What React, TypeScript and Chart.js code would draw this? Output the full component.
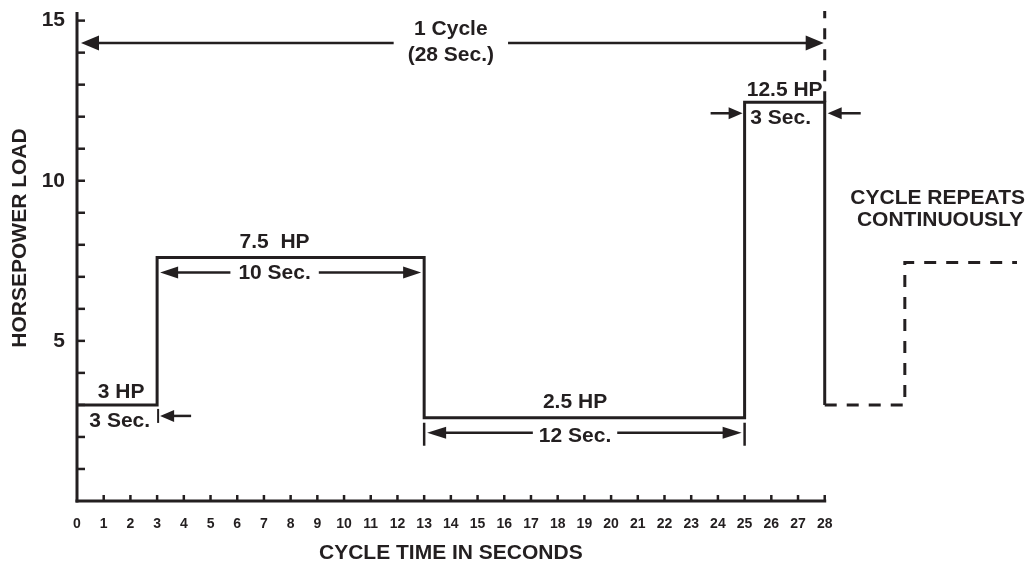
import React, { useEffect, useRef } from 'react';
import { Chart, registerables } from 'chart.js';

Chart.register(...registerables);

// ---- data ----
const cycleTimes = [0, 3, 3, 13, 13, 25, 25, 28, 28];
const loadHP = [3, 3, 7.6, 7.6, 2.6, 2.6, 12.45, 12.45, 3];
const repeatTimes = [28, 31, 31, 35.2];
const repeatHP = [3, 3, 7.45, 7.45];
const cycleEndTimes = [28, 28];
const cycleEndHP = [12.45, 15.3];

const xTickValues = [0, 1, 2, 3, 4, 5, 6, 7, 8, 9, 10, 11, 12, 13, 14, 15, 16, 17, 18, 19, 20, 21, 22, 23, 24, 25, 26, 27, 28];
const yTickValues = [0, 1, 2, 3, 4, 5, 6, 7, 8, 9, 10, 11, 12, 13, 14, 15];
const yLabeledTicks = [5, 10, 15];

const hpLabels = ['3 HP', '7.5  HP', '2.5 HP', '12.5 HP'];
const durationLabels = ['3 Sec.', '10 Sec.', '12 Sec.', '3 Sec.'];
const cycleLabel = ['1 Cycle', '(28 Sec.)'];
const repeatNote = ['CYCLE REPEATS', 'CONTINUOUSLY'];
const xTitle = 'CYCLE TIME IN SECONDS';
const yTitle = 'HORSEPOWER LOAD';

const FONT = '"Liberation Sans", Arial, Helvetica, sans-serif';
const INK = '#231f20';

function head(ctx: CanvasRenderingContext2D, tipX: number, tipY: number, dir: number, len: number, half: number) {
  ctx.beginPath();
  ctx.moveTo(tipX, tipY);
  ctx.lineTo(tipX - dir * len, tipY - half);
  ctx.lineTo(tipX - dir * len, tipY + half);
  ctx.closePath();
  ctx.fill();
}

function seg(ctx: CanvasRenderingContext2D, x1: number, y1: number, x2: number, y2: number, w: number) {
  ctx.lineWidth = w;
  ctx.beginPath();
  ctx.moveTo(x1, y1);
  ctx.lineTo(x2, y2);
  ctx.stroke();
}

function dimArrow(ctx: CanvasRenderingContext2D, xl: number, xr: number, yy: number, cx: number, gap: number, len: number, half: number) {
  seg(ctx, xl + len - 1, yy, cx - gap, yy, 2.5);
  seg(ctx, cx + gap, yy, xr - len + 1, yy, 2.5);
  head(ctx, xl, yy, -1, len, half);
  head(ctx, xr, yy, 1, len, half);
}

const diagramPlugin = {
  id: 'dutyCycleDiagram',
  beforeDatasetsDraw(chart: any) {
    const { ctx, chartArea } = chart;
    const xs = chart.scales.x;
    const ys = chart.scales.y;
    const x0 = xs.getPixelForValue(0);
    const y0 = ys.getPixelForValue(0);
    ctx.save();
    ctx.strokeStyle = INK;
    ctx.lineCap = 'butt';
    seg(ctx, x0, y0 + 1.5, x0, chartArea.top + 1, 3);
    seg(ctx, x0 - 1.5, y0, xs.getPixelForValue(xTickValues[xTickValues.length - 1]) + 1.5, y0, 3);
    for (const v of yTickValues) {
      if (v === 0) continue;
      const py = ys.getPixelForValue(v);
      seg(ctx, x0, py, x0 + 8, py, 2.5);
    }
    for (const v of xTickValues) {
      if (v === 0) continue;
      const px = xs.getPixelForValue(v);
      seg(ctx, px, y0, px, y0 - 6, 2.5);
    }
    ctx.restore();
  },
  afterDatasetsDraw(chart: any) {
    const { ctx, chartArea } = chart;
    const X = (v: number) => chart.scales.x.getPixelForValue(v);
    const Y = (v: number) => chart.scales.y.getPixelForValue(v);
    ctx.save();
    ctx.fillStyle = INK;
    ctx.strokeStyle = INK;
    ctx.lineCap = 'butt';
    ctx.font = `bold 21px ${FONT}`;
    ctx.textBaseline = 'middle';
    const text = (s: string, px: number, py: number, align: CanvasTextAlign = 'center') => {
      ctx.textAlign = align;
      ctx.fillText(s, px, py);
    };

    // 1 cycle arrow
    const topY = 43;
    const cx = X(14);
    text(cycleLabel[0], cx, 29);
    text(cycleLabel[1], cx, 55);
    const cg = ctx.measureText(cycleLabel[1]).width / 2 + 14;
    dimArrow(ctx, X(0) + 4, X(28) - 1, topY, cx, cg, 18, 7.5);

    // 3 HP segment
    const l1 = Y(loadHP[0]);
    text(hpLabels[0], X(1.65), l1 - 13);
    text(durationLabels[0], X(1.6), l1 + 16);
    seg(ctx, X(3) + 1, l1 + 4, X(3) + 1, l1 + 18, 2);
    head(ctx, X(3) + 3, l1 + 11, -1, 14, 6);
    seg(ctx, X(3) + 15, l1 + 11, X(3) + 34, l1 + 11, 2.5);

    // 7.5 HP segment
    const l2 = Y(loadHP[2]);
    const c2 = X(7.4);
    text(hpLabels[1], c2, l2 - 15);
    text(durationLabels[1], c2, l2 + 16);
    const g2 = ctx.measureText(durationLabels[1]).width / 2 + 8;
    dimArrow(ctx, X(3) + 3, X(13) - 3, l2 + 15, c2, g2, 18, 6);

    // 2.5 HP segment
    const l3 = Y(loadHP[4]);
    const c3 = X(18.65);
    text(hpLabels[2], c3, l3 - 16);
    text(durationLabels[2], c3, l3 + 18);
    const g3 = ctx.measureText(durationLabels[2]).width / 2 + 6;
    dimArrow(ctx, X(13) + 3, X(25) - 3, l3 + 15, c3, g3, 19, 6);
    seg(ctx, X(13), l3 + 5, X(13), l3 + 28, 2.5);
    seg(ctx, X(25), l3 + 5, X(25), l3 + 28, 2.5);

    // 12.5 HP segment
    const l4 = Y(loadHP[6]);
    text(hpLabels[3], X(26.5), l4 - 12);
    text(durationLabels[3], X(26.35), l4 + 16);
    head(ctx, X(25) - 2, l4 + 11, 1, 14, 6);
    seg(ctx, X(25) - 34, l4 + 11, X(25) - 14, l4 + 11, 2.5);
    head(ctx, X(28) + 3, l4 + 11, -1, 14, 6);
    seg(ctx, X(28) + 15, l4 + 11, X(28) + 36, l4 + 11, 2.5);

    // repeat note
    text(repeatNote[0], chartArea.right, 198, 'right');
    text(repeatNote[1], chartArea.right - 2, 220, 'right');

    // axis titles
    text(xTitle, X(14), 553);
    ctx.save();
    ctx.translate(20, 238);
    ctx.rotate(-Math.PI / 2);
    text(yTitle, 0, 0);
    ctx.restore();

    ctx.restore();
  },
};

export default function App() {
  const canvasRef = useRef<HTMLCanvasElement | null>(null);

  useEffect(() => {
    const canvas = canvasRef.current;
    if (!canvas) return;
    const mk = (xsArr: number[], ysArr: number[]) => xsArr.map((v, i) => ({ x: v, y: ysArr[i] }));
    const chart = new Chart(canvas, {
      type: 'scatter',
      data: {
        datasets: [
          {
            data: mk(cycleTimes, loadHP),
            showLine: true,
            borderColor: INK,
            borderWidth: 3,
            pointRadius: 0,
            borderJoinStyle: 'miter',
            clip: false,
          } as any,
          {
            data: mk(repeatTimes, repeatHP),
            showLine: true,
            borderColor: INK,
            borderWidth: 3,
            borderDash: [12, 10],
            pointRadius: 0,
            clip: false,
          } as any,
          {
            data: mk(cycleEndTimes, cycleEndHP),
            showLine: true,
            borderColor: INK,
            borderWidth: 3,
            borderDash: [11, 10],
            pointRadius: 0,
            clip: false,
          } as any,
        ],
      },
      options: {
        animation: false,
        responsive: false,
        events: [],
        layout: { padding: { top: 11, right: 4, left: 0, bottom: 0 } },
        plugins: { legend: { display: false }, tooltip: { enabled: false } },
        scales: {
          x: {
            type: 'linear',
            min: 0,
            max: 35.5,
            grid: { display: false, drawTicks: false },
            border: { display: false },
            afterBuildTicks: (s: any) => {
              s.ticks = xTickValues.map((v) => ({ value: v }));
            },
            afterFit: (s: any) => {
              s.height = 62;
              s.paddingLeft = 0;
              s.paddingRight = 0;
            },
            ticks: {
              autoSkip: false,
              maxRotation: 0,
              padding: 15,
              color: INK,
              font: { family: FONT, size: 14, weight: 'bold' },
              callback: (v: any) => String(v),
            },
          },
          y: {
            type: 'linear',
            min: 0,
            max: 15.3,
            grid: { display: false, drawTicks: false },
            border: { display: false },
            afterBuildTicks: (s: any) => {
              s.ticks = yTickValues.map((v) => ({ value: v }));
            },
            afterFit: (s: any) => {
              s.width = 77;
              s.paddingTop = 0;
              s.paddingBottom = 0;
            },
            ticks: {
              autoSkip: false,
              padding: 12,
              color: INK,
              font: { family: FONT, size: 21, weight: 'bold' },
              callback: (v: any) => (yLabeledTicks.includes(Number(v)) ? String(v) : ''),
            },
          },
        },
      } as any,
      plugins: [diagramPlugin],
    });
    return () => chart.destroy();
  }, []);

  return (
    <div style={{ position: 'fixed', left: 0, top: 0, width: 1029, height: 563, background: '#fff' }}>
      <canvas ref={canvasRef} width={1029} height={563} style={{ display: 'block' }} />
    </div>
  );
}
